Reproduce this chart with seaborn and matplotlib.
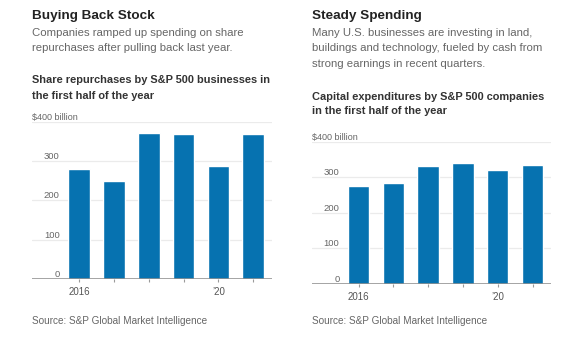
import matplotlib
matplotlib.use("Agg")
import matplotlib.pyplot as plt
import matplotlib.transforms as mtransforms
import seaborn as sns
import pandas as pd

# Data: first-half totals, in billions of dollars
years = ["2016", "2017", "2018", "2019", "2020", "2021"]
buybacks = [280, 250, 371, 368, 287, 368]
capex = [275, 283, 331, 341, 320, 334]
x_tick_labels = ["2016", "", "", "", "\u201920", ""]
y_ticks = [0, 100, 200, 300]
y_top = 400

BLUE = "#0672b0"
W, H = 576, 341

sns.set_theme(style="white")
plt.rcParams["font.family"] = ["Liberation Sans", "DejaVu Sans"]

fig = plt.figure(figsize=(W / 100, H / 100), dpi=100)
fig.patch.set_facecolor("white")


def fy(py):
    return 1 - py / H


def fx(px):
    return px / W


def panel(left, right, top, bottom, values, x0):
    ax = fig.add_axes([fx(left), fy(bottom), fx(right - left), (bottom - top) / H])
    df = pd.DataFrame({"year": years, "value": values})
    sns.barplot(data=df, x="year", y="value", color=BLUE, width=0.62,
                saturation=1, ax=ax, zorder=3)
    ax.set_xlim(x0, x0 + (right - left) / 34.8)
    ax.set_ylim(0, y_top)
    for s in ax.spines.values():
        s.set_visible(False)
    ax.axhline(0, color="#8c8c8c", lw=1.1, zorder=4)
    for v in y_ticks[1:] + [y_top]:
        ax.axhline(v, color="#ebebeb", lw=0.9, zorder=1)
    ax.set_xlabel("")
    ax.set_ylabel("")
    ax.set_xticks(range(len(years)))
    ax.set_xticklabels(x_tick_labels, fontsize=7.0, color="#555555")
    ax.tick_params(axis="x", length=2.5, width=0.8, color="#9a9a9a",
                   pad=3, bottom=True)
    ax.set_yticks(y_ticks)
    ax.set_yticklabels([str(v) for v in y_ticks], fontsize=6.8, color="#666666")
    ax.tick_params(axis="y", length=0, pad=-20)
    for lab in ax.get_yticklabels():
        lab.set_verticalalignment("bottom")
        lab.set_horizontalalignment("right")
    trans = mtransforms.blended_transform_factory(ax.transAxes, ax.transData)
    ax.text(0, y_top, "$400 billion", transform=trans, ha="left",
            va="bottom", fontsize=6.5, color="#666666")
    ax.set_facecolor("none")
    return ax


panel(32, 271.7, 121.7, 279, buybacks, -1.356)
panel(311.7, 551, 141.7, 284, capex, -1.345)


def line(px, py, s, size, color, weight="normal"):
    fig.text(fx(px), fy(py), s, ha="left", va="center", fontsize=size,
             color=color, fontweight=weight)


# Left panel headings
line(32, 15.7, "Buying Back Stock", 9.7, "#222222", "bold")
line(32, 33.3, "Companies ramped up spending on share", 8.2, "#666666")
line(32, 48.3, "repurchases after pulling back last year.", 8.2, "#666666")
line(32, 80, "Share repurchases by S&P 500 businesses in", 7.9, "#333333", "bold")
line(32, 95.7, "the first half of the year", 7.9, "#333333", "bold")
line(32, 321, "Source: S&P Global Market Intelligence", 7.2, "#666666")

# Right panel headings
line(311.7, 15.7, "Steady Spending", 9.7, "#222222", "bold")
line(311.7, 33.3, "Many U.S. businesses are investing in land,", 8.2, "#666666")
line(311.7, 48.3, "buildings and technology, fueled by cash from", 8.2, "#666666")
line(311.7, 64, "strong earnings in recent quarters.", 8.2, "#666666")
line(311.7, 96.7, "Capital expenditures by S&P 500 companies", 7.9, "#333333", "bold")
line(311.7, 111, "in the first half of the year", 7.9, "#333333", "bold")
line(311.7, 321, "Source: S&P Global Market Intelligence", 7.2, "#666666")

fig.savefig("out.png", dpi=100, facecolor="white")
